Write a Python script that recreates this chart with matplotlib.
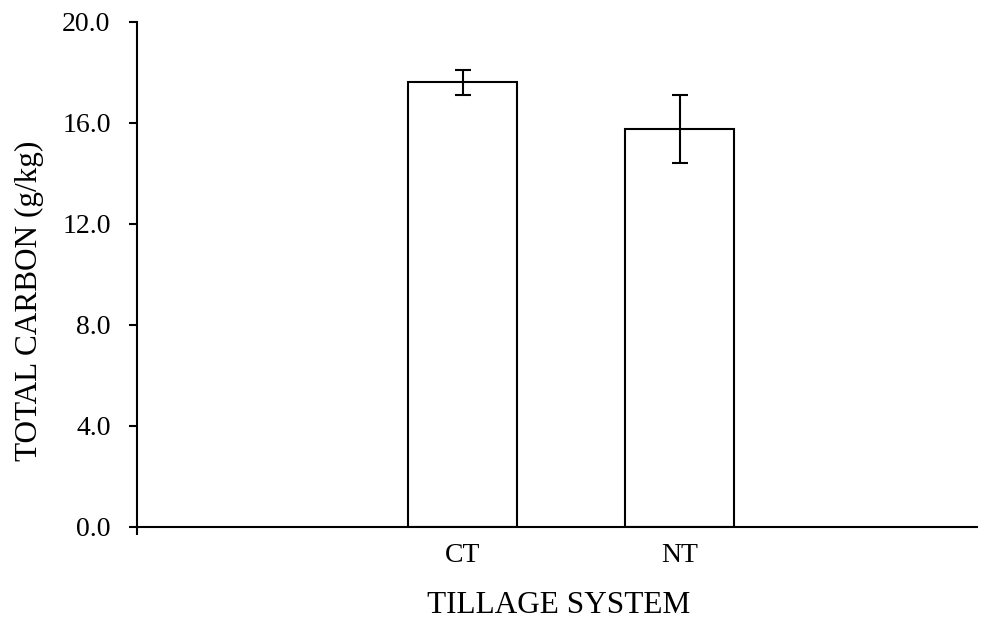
import matplotlib
matplotlib.use("Agg")
import matplotlib.pyplot as plt

categories = ["CT", "NT"]
values = [17.6, 15.75]
errors = [0.5, 1.35]
yticks = [0.0, 4.0, 8.0, 12.0, 16.0, 20.0]

plt.rcParams['font.family'] = ['Liberation Serif', 'DejaVu Serif']

W, H = 997, 621
fig = plt.figure(figsize=(W/100, H/100), dpi=100)
ax = fig.add_axes([137/W, 1-527/H, (977-137)/W, (527-21.7)/H])

x = list(range(len(categories)))
ax.bar(x, values, width=0.5, color="white", edgecolor="black", linewidth=1.5, zorder=2)
ax.errorbar(x, values, yerr=errors, fmt="none", ecolor="black", elinewidth=1.5,
            capsize=6, capthick=1.5, zorder=3)

ax.set_xlim(-1.5, 2.37)
ax.set_ylim(0, 20)
ax.set_yticks(yticks)
ax.set_yticklabels([f"{v:.1f}" for v in yticks], fontsize=20)
ax.set_xticks(x)
ax.set_xticklabels(categories, fontsize=20)
ax.tick_params(axis='x', length=0, pad=11.5)
ax.tick_params(axis='y', length=6, width=1.5, pad=13)
ax.set_xticks([-1.5], minor=True)
ax.tick_params(axis='x', which='minor', length=6, width=1.5, direction='out')

for s in ["top", "right"]:
    ax.spines[s].set_visible(False)
for s in ["left", "bottom"]:
    ax.spines[s].set_linewidth(1.5)

fig.text(558.5/W, 1-613/H, "TILLAGE SYSTEM", fontsize=22.5,
         ha="center", va="baseline")
fig.text(37/W, 1-301/H, "TOTAL CARBON (g/kg)", fontsize=22.5,
         ha="center", va="baseline", rotation=90, rotation_mode="anchor")

fig.savefig("out.png", dpi=100)
